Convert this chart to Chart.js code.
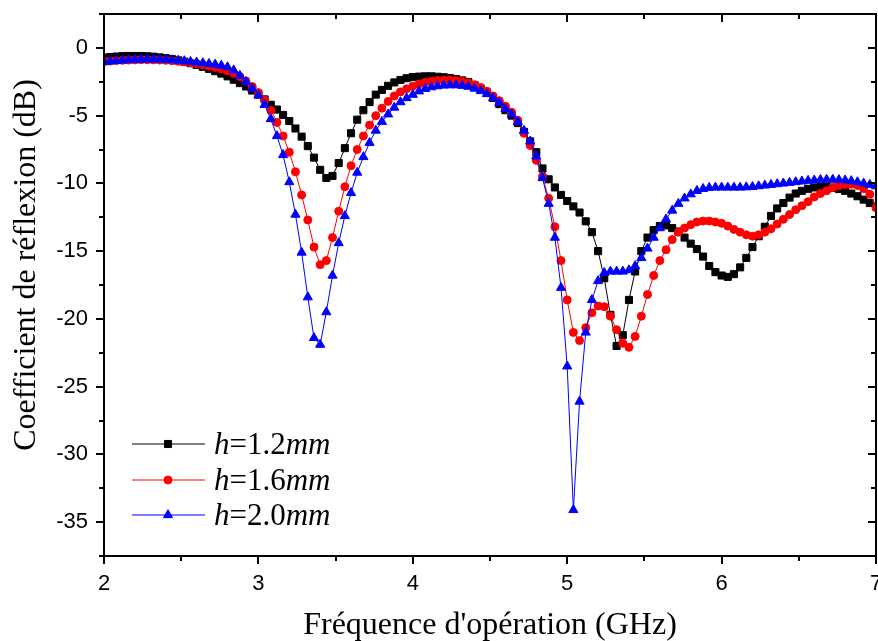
<!DOCTYPE html>
<html>
<head>
<meta charset="utf-8">
<script src="https://cdn.jsdelivr.net/npm/chart.js@4"></script>
<style>
  html, body { margin: 0; padding: 0; background: #fff; overflow: hidden; }
  #wrap { width: 892px; height: 641px; }
</style>
</head>
<body>
<div id="wrap"><canvas id="s11-canvas" width="892" height="641"></canvas></div>
<script>
// frequency sweep (GHz), one point every 0.04 GHz
const freqGHz = [
  2.00, 2.04, 2.08, 2.12, 2.16, 2.20, 2.24, 2.28, 2.32, 2.36,
  2.40, 2.44, 2.48, 2.52, 2.56, 2.60, 2.64, 2.68, 2.72, 2.76,
  2.80, 2.84, 2.88, 2.92, 2.96, 3.00, 3.04, 3.08, 3.12, 3.16,
  3.20, 3.24, 3.28, 3.32, 3.36, 3.40, 3.44, 3.48, 3.52, 3.56,
  3.60, 3.64, 3.68, 3.72, 3.76, 3.80, 3.84, 3.88, 3.92, 3.96,
  4.00, 4.04, 4.08, 4.12, 4.16, 4.20, 4.24, 4.28, 4.32, 4.36,
  4.40, 4.44, 4.48, 4.52, 4.56, 4.60, 4.64, 4.68, 4.72, 4.76,
  4.80, 4.84, 4.88, 4.92, 4.96, 5.00, 5.04, 5.08, 5.12, 5.16,
  5.20, 5.24, 5.28, 5.32, 5.36, 5.40, 5.44, 5.48, 5.52, 5.56,
  5.60, 5.64, 5.68, 5.72, 5.76, 5.80, 5.84, 5.88, 5.92, 5.96,
  6.00, 6.04, 6.08, 6.12, 6.16, 6.20, 6.24, 6.28, 6.32, 6.36,
  6.40, 6.44, 6.48, 6.52, 6.56, 6.60, 6.64, 6.68, 6.72, 6.76,
  6.80, 6.84, 6.88, 6.92, 6.96, 7.00
];

// S11 (dB) for h = 1.2 mm
const s11_h12 = [
  -0.72, -0.68, -0.64, -0.61, -0.6, -0.6, -0.6, -0.62, -0.65, -0.7,
  -0.76, -0.83, -0.92, -1.02, -1.13, -1.26, -1.4, -1.55, -1.72, -1.9,
  -2.1, -2.35, -2.6, -2.85, -3.15, -3.45, -3.8, -4.2, -4.55, -4.95,
  -5.4, -5.95, -6.55, -7.25, -8.1, -9.0, -9.6, -9.45, -8.5, -7.4,
  -6.3, -5.3, -4.6, -4.0, -3.45, -3.1, -2.8, -2.55, -2.37, -2.24,
  -2.16, -2.12, -2.1, -2.1, -2.13, -2.17, -2.22, -2.3, -2.4, -2.53,
  -2.75, -3.0, -3.3, -3.7, -4.15, -4.6, -5.0, -5.55, -6.2, -6.9,
  -7.7, -8.9, -9.7, -10.3, -10.85, -11.3, -11.7, -12.15, -12.8, -13.6,
  -15.0, -17.0, -19.7, -22.0, -21.2, -18.6, -16.5, -15.0, -14.0, -13.45,
  -13.15, -13.1, -13.3, -13.55, -14.0, -14.45, -14.85, -15.4, -16.1, -16.55,
  -16.8, -16.9, -16.7, -16.2, -15.5, -14.7, -13.9, -13.2, -12.4, -11.85,
  -11.45, -11.05, -10.75, -10.55, -10.4, -10.3, -10.27, -10.27, -10.32, -10.42,
  -10.55, -10.75, -10.95, -11.2, -11.45, -11.7
];

// S11 (dB) for h = 1.6 mm
const s11_h16 = [
  -1.0, -0.97, -0.94, -0.92, -0.9, -0.89, -0.88, -0.88, -0.89, -0.9,
  -0.92, -0.95, -0.99, -1.04, -1.1, -1.17, -1.25, -1.34, -1.44, -1.56,
  -1.7, -1.88, -2.12, -2.45, -2.85, -3.3, -3.85, -4.6, -5.5, -6.5,
  -7.7, -9.15, -10.85, -12.7, -14.7, -16.0, -15.7, -14.0, -12.05, -10.25,
  -8.7, -7.5, -6.5, -5.7, -5.0, -4.45, -3.95, -3.55, -3.25, -3.02,
  -2.83, -2.66, -2.54, -2.46, -2.4, -2.38, -2.38, -2.41, -2.48, -2.58,
  -2.72, -2.92, -3.2, -3.55, -3.9, -4.3, -4.75, -5.35, -6.3, -7.2,
  -8.3, -9.5, -11.1, -13.2, -15.7, -18.6, -21.0, -21.6, -20.65, -19.55,
  -19.05, -19.1, -19.8, -20.8, -21.8, -22.1, -21.3, -19.8, -18.2, -16.8,
  -15.7, -14.9, -14.15, -13.6, -13.3, -13.05, -12.85, -12.78, -12.78, -12.85,
  -12.95, -13.15, -13.4, -13.6, -13.8, -13.9, -13.8, -13.6, -13.35, -13.0,
  -12.65, -12.3, -11.95, -11.65, -11.35, -11.0, -10.75, -10.55, -10.3, -10.17,
  -10.08, -10.06, -10.15, -10.4, -10.8, -11.8
];

// S11 (dB) for h = 2.0 mm
const s11_h20 = [
  -1.05, -1.0, -0.95, -0.92, -0.9, -0.88, -0.86, -0.85, -0.85, -0.86,
  -0.88, -0.9, -0.93, -0.97, -1.02, -1.07, -1.12, -1.17, -1.22, -1.3,
  -1.42, -1.65, -2.05, -2.5, -3.0, -3.5, -4.2, -5.25, -6.5, -7.9,
  -9.9, -12.3, -15.1, -18.4, -21.4, -21.9, -19.5, -16.8, -14.4, -12.4,
  -10.7, -9.2, -8.05, -7.0, -6.1, -5.45, -4.9, -4.4, -4.0, -3.7,
  -3.45, -3.2, -3.02, -2.9, -2.82, -2.77, -2.75, -2.75, -2.79, -2.86,
  -3.0, -3.18, -3.4, -3.7, -4.05, -4.5, -4.9, -5.45, -6.1, -6.9,
  -8.0, -9.6, -11.5, -14.0, -17.7, -23.5, -34.1, -26.1, -21.0, -18.6,
  -17.2, -16.6, -16.5, -16.5, -16.5, -16.4, -16.1, -15.5, -14.8, -14.0,
  -13.3, -12.65, -12.0, -11.5, -11.1, -10.8, -10.55, -10.4, -10.32, -10.3,
  -10.3, -10.3, -10.3, -10.3, -10.28, -10.25, -10.2, -10.15, -10.1, -10.05,
  -10.0, -9.95, -9.9, -9.85, -9.8, -9.77, -9.73, -9.72, -9.72, -9.74,
  -9.77, -9.82, -9.9, -10.0, -10.1, -10.2
];

// legend pieces: italic, upright, italic
const legendParts = [
  ['h', '=1.2', 'mm'],
  ['h', '=1.6', 'mm'],
  ['h', '=2.0', 'mm']
];

const xTicks = [2, 3, 4, 5, 6, 7];
const yTicks = [0, -5, -10, -15, -20, -25, -30, -35];
const xTitle = "Fréquence d'opération (GHz)";
const yTitle = "Coefficient de réflexion (dB)";

let toPoints = function(values) {
  return freqGHz.map((f, i) => ({ x: f, y: values[i] }));
};

let makeSet = function(values, color, style, radius, order) {
  return {
    data: toPoints(values),
    borderColor: color,
    backgroundColor: color,
    borderWidth: 1,
    pointStyle: style,
    pointRadius: radius,
    pointBorderWidth: 1,
    pointBorderColor: color,
    pointBackgroundColor: color,
    tension: 0,
    order: order
  };
};

const serif = '"Liberation Serif", "Times New Roman", serif';
const sans = '"Liberation Sans", Arial, sans-serif';

let framePlugin = {
  id: 'frame',
  afterDraw(chart) {
    let ctx = chart.ctx;
    let a = chart.chartArea;
    let xs = chart.scales.x;
    let ys = chart.scales.y;
    ctx.save();
    ctx.strokeStyle = '#000';
    ctx.lineWidth = 2;
    ctx.strokeRect(a.left, a.top, a.right - a.left, a.bottom - a.top);

    ctx.beginPath();
    for (let k = 0; k <= 10; k++) {
      let v = 2 + k * 0.5;
      let px = Math.round(xs.getPixelForValue(v));
      let len = k % 2 === 0 ? 8 : 5;
      ctx.moveTo(px, a.bottom);
      ctx.lineTo(px, a.bottom + len);
      ctx.moveTo(px, a.top);
      ctx.lineTo(px, a.top + len);
    }
    for (let k = 0; k <= 16; k++) {
      let v = 2.5 - k * 2.5;
      let py = Math.round(ys.getPixelForValue(v));
      let len = k % 2 === 1 ? 8 : 5;
      ctx.moveTo(a.left, py);
      ctx.lineTo(a.left - len, py);
      ctx.moveTo(a.right, py);
      ctx.lineTo(a.right - len, py);
    }
    ctx.stroke();

    ctx.fillStyle = '#000';
    ctx.font = '32px ' + serif;
    ctx.textAlign = 'center';
    ctx.textBaseline = 'middle';
    ctx.fillText(xTitle, (a.left + a.right) / 2, 626);
    ctx.translate(27, 265);
    ctx.rotate(-Math.PI / 2);
    ctx.fillText(yTitle, 0, 0);
    ctx.restore();
  }
};

let legendPlugin = {
  id: 'innerLegend',
  afterDraw(chart) {
    let ctx = chart.ctx;
    let rows = [444, 480, 515];
    ctx.save();
    chart.data.datasets.forEach((ds, i) => {
      let y = rows[i];
      ctx.strokeStyle = ds.borderColor;
      ctx.fillStyle = ds.backgroundColor;
      ctx.lineWidth = 1;
      ctx.beginPath();
      ctx.moveTo(132, y);
      ctx.lineTo(205, y);
      ctx.stroke();
      Chart.helpers.drawPoint(ctx, {
        pointStyle: ds.pointStyle,
        radius: ds.pointRadius,
        rotation: 0,
        borderWidth: 1
      }, 168, y);

      let x = 214;
      ctx.fillStyle = '#000';
      ctx.textBaseline = 'alphabetic';
      ctx.textAlign = 'left';
      let parts = legendParts[i];
      parts.forEach((txt, j) => {
        ctx.font = (j === 1 ? '' : 'italic ') + '31px ' + serif;
        ctx.fillText(txt, x, y + 10);
        x += ctx.measureText(txt).width;
      });
    });
    ctx.restore();
  }
};

let ctx = document.getElementById('s11-canvas').getContext('2d');
let s11Chart = new Chart(ctx, {
  type: 'line',
  data: {
    datasets: [
      makeSet(s11_h12, '#000000', 'rect', 5, 2),
      makeSet(s11_h16, '#ff0000', 'circle', 4, 1),
      makeSet(s11_h20, '#0000ff', 'triangle', 5.3, 0)
    ]
  },
  options: {
    responsive: false,
    devicePixelRatio: 1,
    animation: false,
    layout: { padding: { left: 0, top: 14, right: 16, bottom: 0 } },
    plugins: {
      legend: { display: false },
      tooltip: { enabled: false }
    },
    scales: {
      x: {
        type: 'linear',
        min: 2,
        max: 7,
        afterBuildTicks: s => { s.ticks = xTicks.map(v => ({ value: v })); },
        afterFit: s => {
          s.height = 641 - 556;
          s.paddingLeft = 0;
          s.paddingRight = 0;
        },
        grid: { display: false, drawTicks: false },
        border: { display: false },
        ticks: {
          padding: 15,
          color: '#000',
          autoSkip: false,
          maxRotation: 0,
          font: { family: sans, size: 22 }
        }
      },
      y: {
        type: 'linear',
        min: -37.5,
        max: 2.5,
        afterBuildTicks: s => { s.ticks = yTicks.map(v => ({ value: v })); },
        afterFit: s => {
          s.width = 104;
          s.paddingTop = 0;
          s.paddingBottom = 0;
        },
        grid: { display: false, drawTicks: false },
        border: { display: false },
        ticks: {
          padding: 16,
          color: '#000',
          font: { family: sans, size: 22 }
        }
      }
    }
  },
  plugins: [framePlugin, legendPlugin]
});
</script>
</body>
</html>
